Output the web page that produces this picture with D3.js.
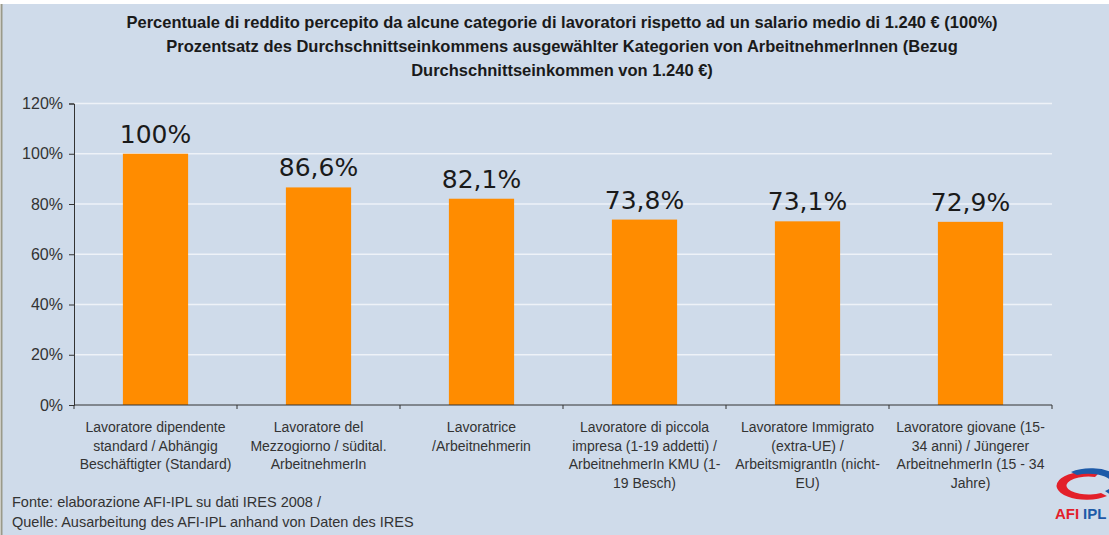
<!DOCTYPE html>
<html>
<head>
<meta charset="utf-8">
<script src="https://cdn.jsdelivr.net/npm/d3@7"></script>
<style>
  body { margin: 0; background: #fff; }
  svg { display: block; }
</style>
</head>
<body>
<div id="chart"></div>
<script>
const categories = [
  ["Lavoratore dipendente", "standard / Abhängig", "Beschäftigter (Standard)"],
  ["Lavoratore del", "Mezzogiorno / südital.", "ArbeitnehmerIn"],
  ["Lavoratrice", "/Arbeitnehmerin"],
  ["Lavoratore di piccola", "impresa (1-19 addetti) /", "ArbeitnehmerIn KMU (1-", "19 Besch)"],
  ["Lavoratore Immigrato", "(extra-UE) /", "ArbeitsmigrantIn (nicht-", "EU)"],
  ["Lavoratore giovane (15-", "34 anni) / Jüngerer", "ArbeitnehmerIn (15 - 34", "Jahre)"]
];
const values = [100, 86.6, 82.1, 73.8, 73.1, 72.9];
const valueLabels = ["100%", "86,6%", "82,1%", "73,8%", "73,1%", "72,9%"];
const yTicks = [0, 20, 40, 60, 80, 100, 120];
const titleLines = [
  "Percentuale di reddito percepito da alcune categorie di lavoratori rispetto ad un salario medio di 1.240 € (100%)",
  "Prozentsatz des Durchschnittseinkommens ausgewählter Kategorien von ArbeitnehmerInnen (Bezug",
  "Durchschnittseinkommen von 1.240 €)"
];
const sourceLines = [
  "Fonte: elaborazione AFI-IPL su dati IRES 2008 /",
  "Quelle: Ausarbeitung des AFI-IPL anhand von Daten des IRES"
];

const width = 1109, height = 535;
const plotLeft = 74, plotRight = 1052, plotTop = 103.5, plotBottom = 405;

const svg = d3.select("#chart").append("svg")
  .attr("width", width)
  .attr("height", height);

// background panel
svg.append("rect")
  .attr("x", 2).attr("y", 4)
  .attr("width", width - 2).attr("height", height - 4)
  .attr("fill", "#cfdbea");
svg.append("line")
  .attr("x1", 1.5).attr("x2", 1.5).attr("y1", 4).attr("y2", height)
  .attr("stroke", "#9a9a8a").attr("stroke-width", 2);

// title
svg.append("g").selectAll("text")
  .data(titleLines)
  .join("text")
  .attr("x", 562)
  .attr("y", (d, i) => 28 + i * 24)
  .attr("text-anchor", "middle")
  .style("font-family", "Liberation Sans, Arial, sans-serif")
  .style("font-weight", "bold")
  .style("font-size", "16.5px")
  .style("fill", "#1a1a1a")
  .text(d => d);

const x = d3.scaleBand()
  .domain(d3.range(values.length))
  .range([plotLeft, plotRight])
  .paddingInner(0.6)
  .paddingOuter(0.3);

const y = d3.scaleLinear()
  .domain([0, 120])
  .range([plotBottom, plotTop]);

// gridlines
svg.append("g").selectAll("line")
  .data(yTicks.filter(d => d > 0))
  .join("line")
  .attr("x1", plotLeft).attr("x2", plotRight)
  .attr("y1", d => y(d)).attr("y2", d => y(d))
  .attr("stroke", "#eef2f8")
  .attr("stroke-width", 1.5);

// bars
svg.append("g").selectAll("rect")
  .data(values)
  .join("rect")
  .attr("x", (d, i) => x(i))
  .attr("y", d => y(d))
  .attr("width", x.bandwidth())
  .attr("height", d => y(0) - y(d))
  .attr("fill", "#ff8c00");

// value labels
svg.append("g").selectAll("text")
  .data(values)
  .join("text")
  .attr("x", (d, i) => x(i) + x.bandwidth() / 2)
  .attr("y", d => y(d) - 11)
  .attr("text-anchor", "middle")
  .style("font-family", "DejaVu Sans, Verdana, sans-serif")
  .style("font-size", "25px")
  .style("fill", "#1a1a1a")
  .text((d, i) => valueLabels[i]);

// y axis
const yAxis = svg.append("g")
  .attr("transform", `translate(${plotLeft},0)`)
  .call(d3.axisLeft(y).tickValues(yTicks).tickFormat(d => d + "%").tickSize(5).tickPadding(6));
yAxis.select(".domain").attr("stroke", "#333");
yAxis.selectAll(".tick line").attr("stroke", "#333");
yAxis.selectAll("text")
  .style("font-family", "Liberation Sans, Arial, sans-serif")
  .style("font-size", "16px")
  .style("fill", "#333");

// x axis with ticks at category boundaries
const step = x.step();
const boundaries = d3.range(values.length + 1).map(i => plotLeft + i * step);
svg.append("line")
  .attr("x1", plotLeft).attr("x2", plotRight)
  .attr("y1", plotBottom).attr("y2", plotBottom)
  .attr("stroke", "#333");
svg.append("g").selectAll("line")
  .data(boundaries)
  .join("line")
  .attr("x1", d => d).attr("x2", d => d)
  .attr("y1", plotBottom).attr("y2", plotBottom + 4)
  .attr("stroke", "#333");

// category labels
const catG = svg.append("g").selectAll("text")
  .data(categories)
  .join("text")
  .attr("text-anchor", "middle")
  .style("font-family", "Liberation Sans, Arial, sans-serif")
  .style("font-size", "14px")
  .style("fill", "#333");
catG.selectAll("tspan")
  .data((d, i) => d.map(t => ({ t, i })))
  .join("tspan")
  .attr("x", d => x(d.i) + x.bandwidth() / 2)
  .attr("y", (d, j) => 432 + j * 18.5)
  .text(d => d.t);

// source
svg.append("g").selectAll("text")
  .data(sourceLines)
  .join("text")
  .attr("x", 12)
  .attr("y", (d, i) => 507 + i * 20)
  .style("font-family", "Liberation Sans, Arial, sans-serif")
  .style("font-size", "14.5px")
  .style("fill", "#333")
  .text(d => d);

// logo
const logo = svg.append("g").attr("transform", "translate(1085,485)");
logo.append("path")
  .attr("d", "M14,-12 A30 14 0 1 0 22,11 L16,8 A22 9 0 1 1 10,-8 Z")
  .attr("fill", "#e3202a");
logo.append("path")
  .attr("d", "M-14,-13 A30 15 0 0 1 26,10 L20,6 A24 10 0 0 0 -8,-10 Z")
  .attr("fill", "#1d5aa8");
logo.append("text")
  .attr("x", -30).attr("y", 34)
  .style("font-family", "Liberation Sans, Arial, sans-serif")
  .style("font-weight", "bold")
  .style("font-size", "15px")
  .style("fill", "#e3202a")
  .text("AFI");
logo.append("text")
  .attr("x", -2).attr("y", 34)
  .style("font-family", "Liberation Sans, Arial, sans-serif")
  .style("font-weight", "bold")
  .style("font-size", "15px")
  .style("fill", "#1d5aa8")
  .text("IPL");
</script>
</body>
</html>
